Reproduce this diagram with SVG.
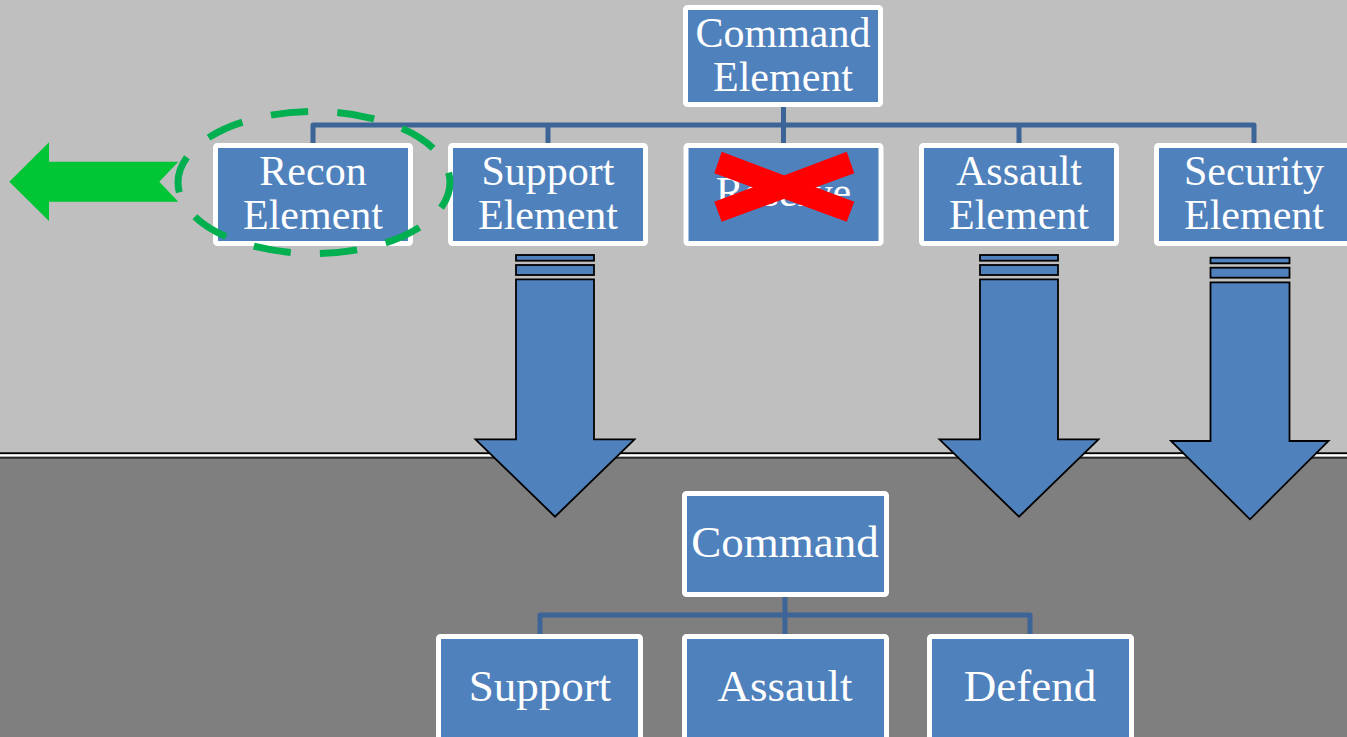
<svg xmlns="http://www.w3.org/2000/svg" width="1347" height="737" viewBox="0 0 1347 737">
<style>
.box{fill:#4f81bd;stroke:#ffffff;stroke-width:5}
.t1{font-family:"Liberation Serif","Times New Roman",serif;font-size:42px;fill:#ffffff;text-anchor:middle}
.t2{font-family:"Liberation Serif","Times New Roman",serif;font-size:45px;fill:#ffffff;text-anchor:middle}
.conn{fill:none;stroke:#3c6496;stroke-width:5;stroke-linejoin:round}
.arr{fill:#4f81bd;stroke:#000000;stroke-width:1.8;stroke-linejoin:miter}
</style>
<rect x="0" y="0" width="1347" height="737" fill="#bfbfbf"/>
<rect x="0" y="457.5" width="1347" height="280" fill="#7f7f7f"/>
<rect x="0" y="452.3" width="1347" height="2" fill="#000000"/>
<rect x="0" y="454.3" width="1347" height="2.4" fill="#ffffff"/>
<rect x="0" y="456.7" width="1347" height="2" fill="#2a2a2a"/>

<g id="connectors">
<path class="conn" d="M313,143 V125 H1254 V143 M548,125 V143 M783.5,107 V143 M1019,125 V143"/>
<path class="conn" d="M540,634 V615 H1030 V634 M785,597 V634"/>
</g>

<g id="command-element">
<rect class="box" x="685.5" y="7.5" width="195" height="97" rx="2"/>
<text class="t1" x="783" y="47">Command</text>
<text class="t1" x="783" y="90.6">Element</text>
</g>
<g id="recon-element">
<rect class="box" x="215.5" y="145.5" width="195" height="98" rx="2"/>
<text class="t1" x="313" y="185">Recon</text>
<text class="t1" x="313" y="228.6">Element</text>
</g>
<g id="support-element">
<rect class="box" x="450.5" y="145.5" width="195" height="98" rx="2"/>
<text class="t1" x="548" y="185">Support</text>
<text class="t1" x="548" y="228.6">Element</text>
</g>
<g id="reserve">
<rect class="box" x="686" y="145.5" width="195" height="98" rx="2"/>
<text class="t1" x="783.5" y="206">Reserve</text>
<polygon fill="#ff0000" points="721.7,151.7 854.3,201.7 846.7,221.7 714.3,173.3"/>
<polygon fill="#ff0000" points="714.3,201.7 846.7,151.7 854.3,173.3 721.7,221.7"/>
</g>
<g id="assault-element">
<rect class="box" x="921.5" y="145.5" width="195" height="98" rx="2"/>
<text class="t1" x="1019" y="185">Assault</text>
<text class="t1" x="1019" y="228.6">Element</text>
</g>
<g id="security-element">
<rect class="box" x="1156.5" y="145.5" width="195" height="98" rx="2"/>
<text class="t1" x="1254" y="185">Security</text>
<text class="t1" x="1254" y="228.6">Element</text>
</g>

<g id="arrow-support">
<rect class="arr" x="516" y="255" width="78" height="5.7"/>
<rect class="arr" x="516" y="265" width="78" height="10"/>
<polygon class="arr" points="516,279.3 594,279.3 594,439.3 634.5,439.3 555,516.7 475.5,439.3 516,439.3"/>
</g>
<g id="arrow-assault">
<rect class="arr" x="980" y="255" width="78" height="5.7"/>
<rect class="arr" x="980" y="265" width="78" height="10"/>
<polygon class="arr" points="980,279.3 1058,279.3 1058,439.3 1098.5,439.3 1019,516.7 939.5,439.3 980,439.3"/>
</g>
<g id="arrow-security">
<rect class="arr" x="1210.5" y="257.7" width="79" height="5.6"/>
<rect class="arr" x="1210.5" y="267.7" width="79" height="10"/>
<polygon class="arr" points="1210.5,282.3 1289.5,282.3 1289.5,441 1328.5,441 1250,519.3 1171,441 1210.5,441"/>
</g>

<g id="recon-exit">
<polygon fill="#00c535" points="9.3,181.7 49,142.3 49,161.7 178.3,161.7 159.3,181.7 178.3,201.7 49,201.7 49,221"/>
<ellipse cx="314" cy="182.5" rx="136" ry="71" fill="none" stroke="#00b050" stroke-width="7" pathLength="100" stroke-dasharray="5.6 4.4" stroke-dashoffset="1.5"/>
</g>

<g id="command">
<rect class="box" x="684.5" y="493.5" width="202" height="101" rx="2"/>
<text class="t2" x="785" y="557">Command</text>
</g>
<g id="support">
<rect class="box" x="438.5" y="636.5" width="202" height="103" rx="2"/>
<text class="t2" x="540" y="700.5">Support</text>
</g>
<g id="assault">
<rect class="box" x="684.5" y="636.5" width="202" height="103" rx="2"/>
<text class="t2" x="785" y="700.5">Assault</text>
</g>
<g id="defend">
<rect class="box" x="929.5" y="636.5" width="202" height="103" rx="2"/>
<text class="t2" x="1030" y="700.5">Defend</text>
</g>
</svg>
